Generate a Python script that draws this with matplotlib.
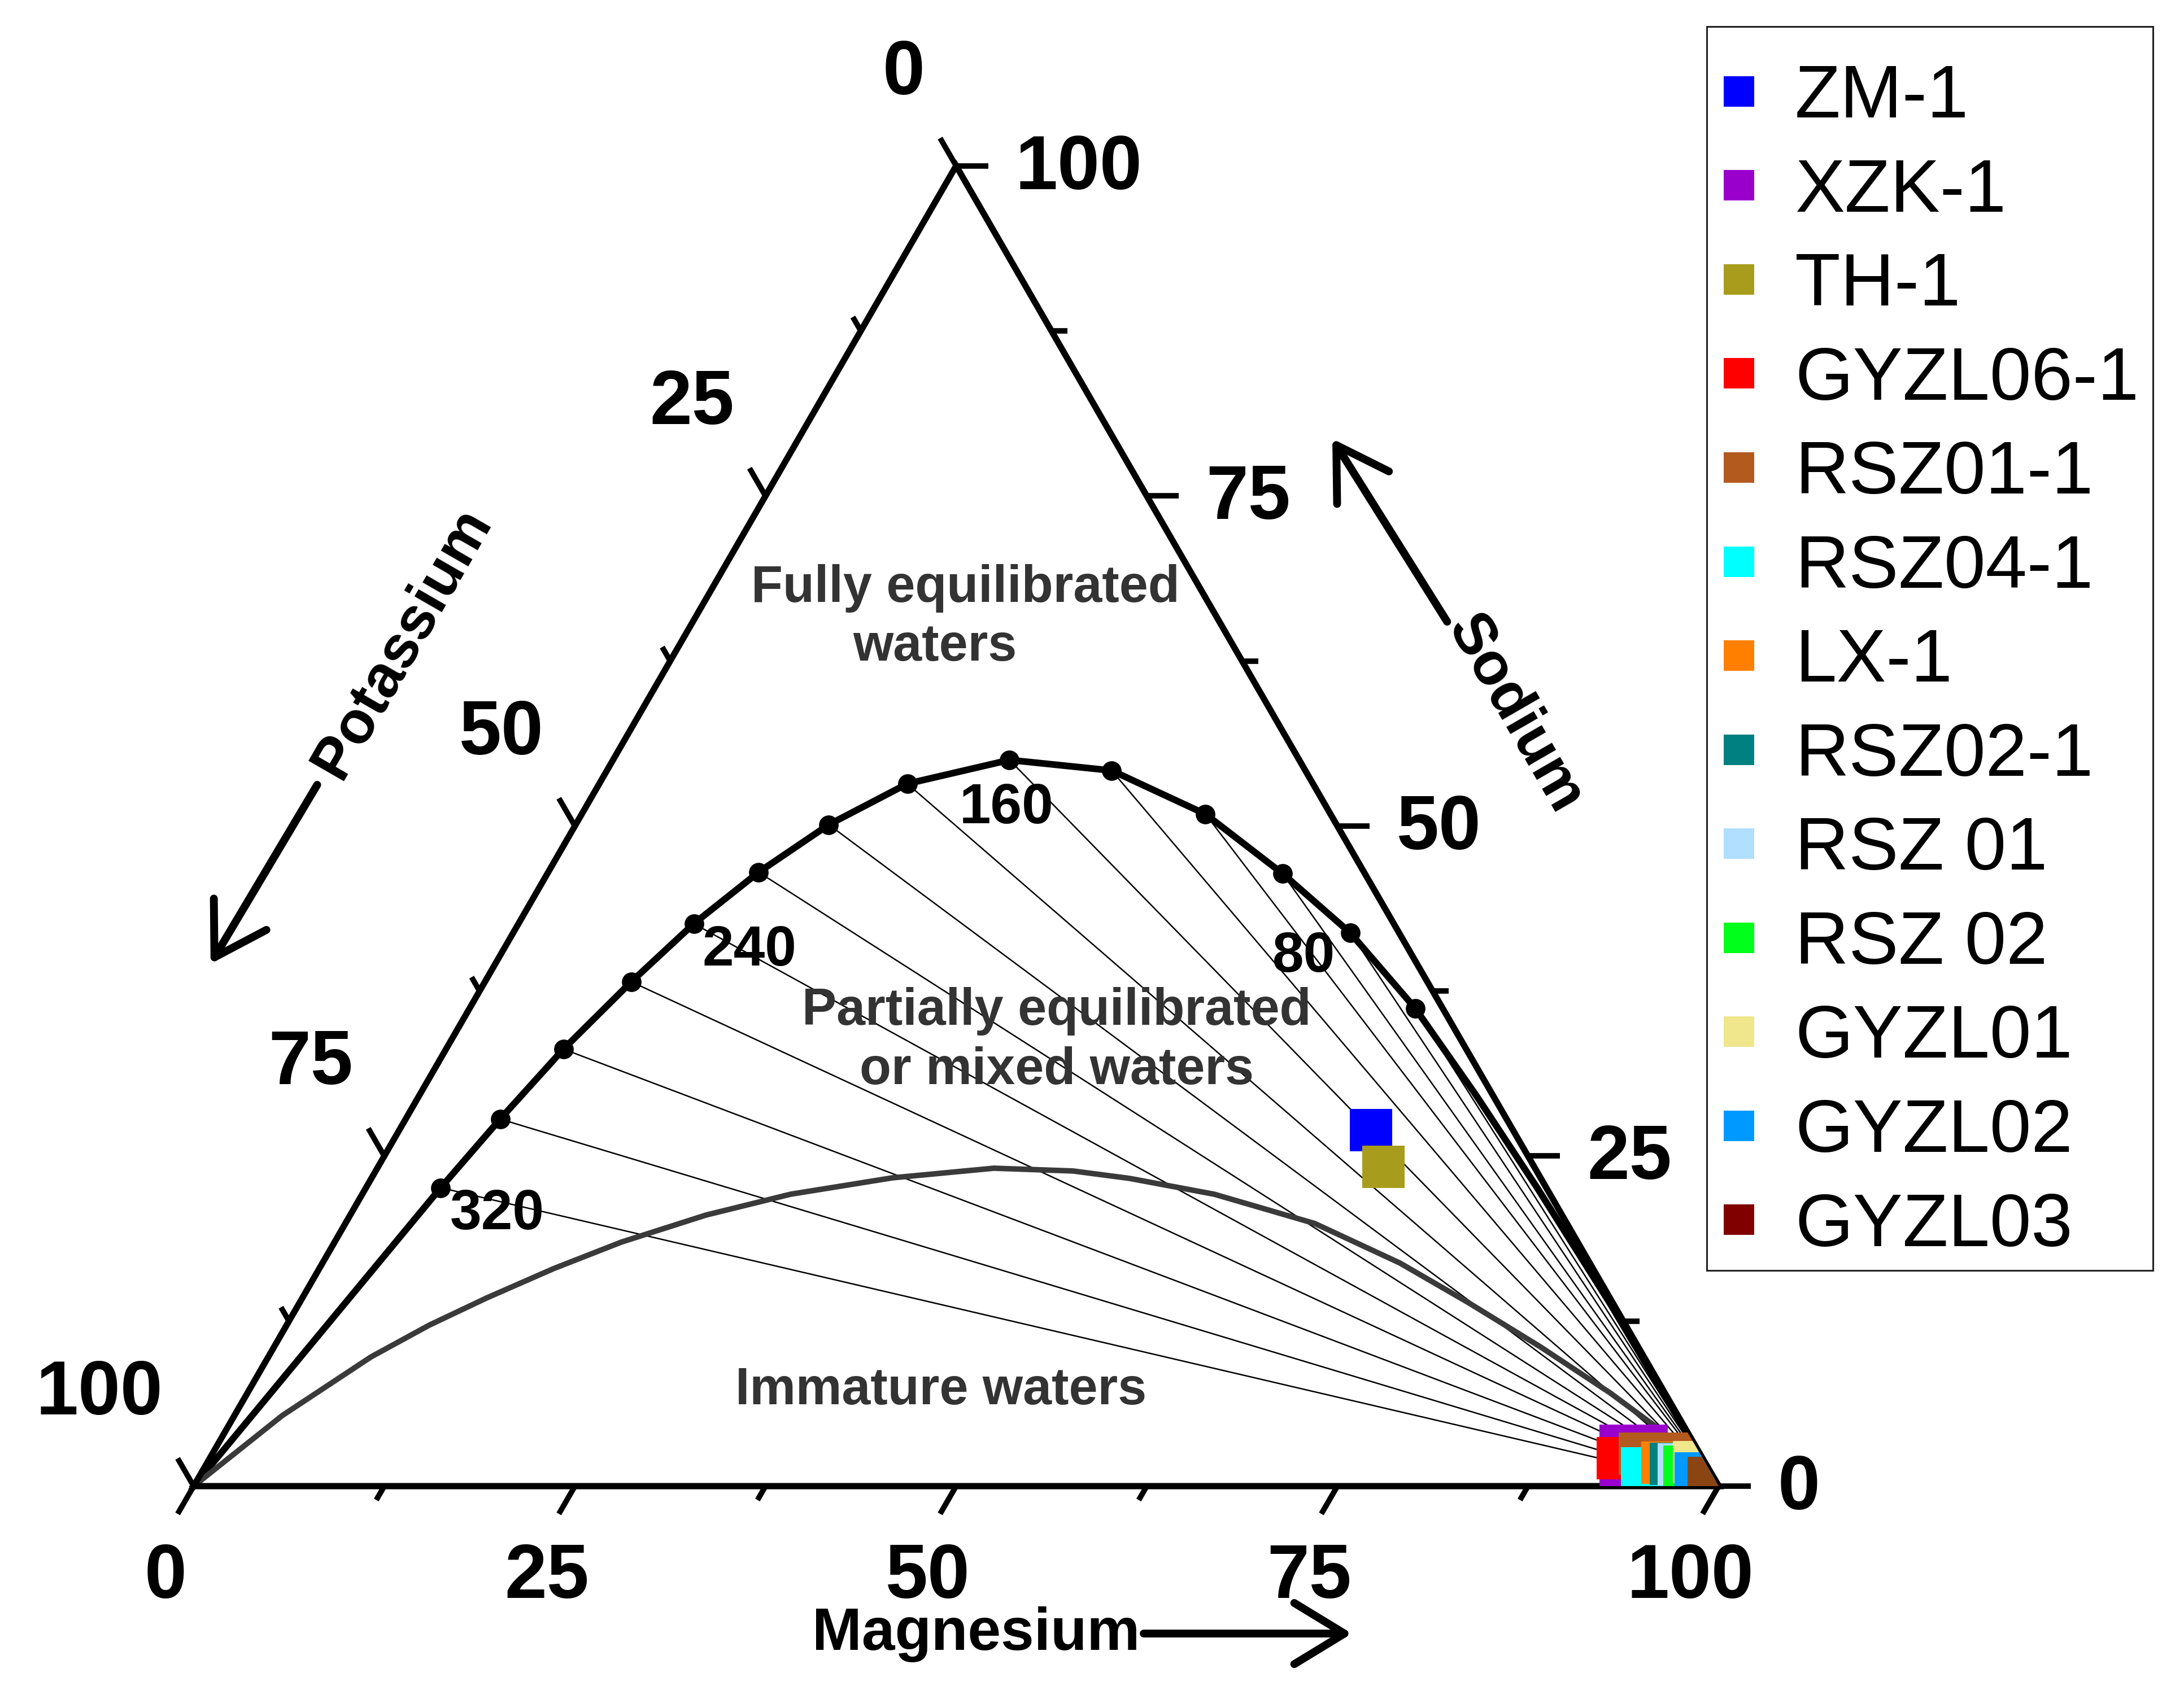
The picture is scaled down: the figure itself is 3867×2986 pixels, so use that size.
import numpy as np
import matplotlib.pyplot as plt
from matplotlib.patches import Polygon, Rectangle
from matplotlib.lines import Line2D

plt.rcParams['font.family'] = ['Liberation Sans', 'DejaVu Sans']

# full equilibrium line (dots every 20 degC), ternary % of Mg and Na
temps = [320, 300, 280, 260, 240, 220, 200, 180, 160, 140, 120, 100, 80, 60]
feq_mg = [4.9, 6.2, 7.7, 9.6, 11.5, 13.8, 16.6, 20.2, 26.0, 33.1, 40.9, 48.2, 54.9, 62.0]
feq_na = [22.6, 27.8, 33.1, 38.2, 42.6, 46.5, 50.1, 53.2, 55.0, 54.2, 50.9, 46.4, 41.9, 36.2]
# parts of the line beyond the dotted range
head_mg, head_na = [0.0], [0.0]
tail_mg = [69.3, 76.8, 86.0, 100.0]
tail_na = [29.6, 22.6, 13.8, 0.0]
temp_labels = {320: (100, -73), 240: (98, -74), 160: (-5, -112), 80: (-82, -69)}

# immature waters boundary
imm_mg = [0, 3.14, 6.74, 9.35, 12.07, 15.36, 18.8, 23.33, 28.09, 34.14, 40.44, 45.73,
          49.71, 55.87, 63.58, 70.67, 76.64, 83.02, 89.36, 94.59, 100]
imm_na = [0, 5.35, 9.79, 12.19, 14.24, 16.47, 18.48, 20.53, 22.11, 23.35, 24.08, 23.87,
          23.31, 22.11, 19.89, 16.89, 13.9, 10.56, 7.06, 3.93, 0]

# samples
names = ['ZM-1', 'XZK-1', 'TH-1', 'GYZL06-1', 'RSZ01-1', 'RSZ04-1', 'LX-1',
         'RSZ02-1', 'RSZ 01', 'RSZ 02', 'GYZL01', 'GYZL02', 'GYZL03']
colors = ['#0000FF', '#9900CC', '#A89C1C', '#FF0000', '#B35A1F', '#00FFFF', '#FF8000',
          '#008080', '#B0DFFF', '#00FF1A', '#F0E68C', '#0099FF', '#8B4513']
legend_colors = colors[:-1] + ['#800000']
samp_mg = [[63.7], [92.0, 93.7, 92.8], [65.9], [92.3], [93.55, 95.7], [94.3], [95.4],
           [96.0], [96.55], [97.0], [97.45], [98.0], [99.0]]
samp_na = [[27.0], [3.1, 3.1, 1.5], [24.2], [2.15], [2.5, 2.5], [1.35], [1.8],
           [1.7], [1.65], [1.5], [1.85], [1.0], [0.65]]

ticks = np.arange(0, 100.1, 12.5)

S3 = np.sqrt(3) / 2
W, H = 3867, 2986


def tern(mg, na):
    mg = np.asarray(mg, float)
    na = np.asarray(na, float)
    return mg + na / 2, na * S3


fig = plt.figure(figsize=(W / 100, H / 100), dpi=100)
ax = fig.add_axes([0, 0, 1, 1])
ax.set_xlim(-12.70, 130.52)
ax.set_ylim(-13.11, 97.48)
ax.axis('off')

tri = Polygon([[0, 0], [100, 0], [50, 100 * S3]], closed=True, fill=False,
              edgecolor='k', lw=8, joinstyle='miter', zorder=4)
ax.add_patch(tri)

tick_kw = dict(color='k', lw=7, solid_capstyle='butt', zorder=4)
lab_kw = dict(fontsize=97, fontweight='bold', textcoords='offset pixels', va='baseline')
for v in ticks:
    L = 2.1 if v % 25 == 0 else 1.05
    x0, y0 = tern(v, 0)
    ax.plot([x0, x0 - 0.5 * L], [y0, y0 - S3 * L], **tick_kw)
    x1, y1 = tern(100 - v, v)
    ax.plot([x1, x1 + L], [y1, y1], **tick_kw)
    x2, y2 = tern(0, 100 - v)
    ax.plot([x2, x2 - 0.5 * L], [y2, y2 + S3 * L], **tick_kw)
    if v % 25 == 0:
        t = '%d' % v
        ax.annotate(t, (x0, y0), xytext=(-50, -198), ha='center', **lab_kw)
        ax.annotate(t, (x1, y1), xytext=(105, -41), ha='left', **lab_kw)
        ax.annotate(t, (x2, y2), xytext=(-55, 127), ha='right', **lab_kw)

# full equilibrium line with tie lines to the Mg corner
fx, fy = tern(feq_mg, feq_na)
for xi, yi in zip(fx, fy):
    ax.plot([xi, 100], [yi, 0], color='k', lw=1.8, zorder=2)
lx, ly = tern(head_mg + feq_mg + tail_mg, head_na + feq_na + tail_na)
ax.plot(lx, ly, color='k', lw=8.5, zorder=3, solid_joinstyle='round')
ax.plot(fx, fy, 'o', color='k', ms=24, zorder=3)
for t, xi, yi in zip(temps, fx, fy):
    if t in temp_labels:
        ax.annotate(str(t), (xi, yi), xytext=temp_labels[t], textcoords='offset pixels',
                    ha='center', va='baseline', fontsize=72, fontweight='bold', zorder=5)

ix, iy = tern(imm_mg, imm_na)
ax.plot(ix, iy, color='#3a3a3a', lw=7, zorder=3, solid_joinstyle='round')

# samples
for nm, c, m, n in zip(names, colors, samp_mg, samp_na):
    sx, sy = tern(m, n)
    ln, = ax.plot(sx, sy, 's', ms=54, color=c, mew=0, zorder=6)
    ln.set_clip_path(tri)

# region labels
reg_kw = dict(fontsize=66, fontweight='bold', color='#333333', ha='center', va='baseline')
ax.text(50.6, 58.0, 'Fully equilibrated', **reg_kw)
ax.text(48.6, 54.15, 'waters', **reg_kw)
ax.text(56.6, 30.26, 'Partially equilibrated', **reg_kw)
ax.text(56.6, 26.37, 'or mixed waters', **reg_kw)
ax.text(49.0, 5.37, 'Immature waters', **reg_kw)

# axis titles and arrows
ttl_kw = dict(fontsize=76, fontweight='bold', ha='center')
arr = dict(arrowstyle='->,head_length=0.64,head_width=0.39', lw=10, color='k',
           mutation_scale=100, shrinkA=0, shrinkB=0)
ax.text(51.3, -10.74, 'Magnesium', va='baseline', **ttl_kw)
ax.annotate('', xy=(75.96, -9.67), xytext=(62.3, -9.67), arrowprops=arr)
ax.text(86.63, 50.63, 'Sodium', rotation=-60, va='center', rotation_mode='anchor', **ttl_kw)
ax.annotate('', xy=(74.67, 68.70), xytext=(82.2, 56.7), arrowprops=arr)
ax.text(13.70, 55.30, 'Potassium', rotation=60, va='center', rotation_mode='anchor', **ttl_kw)
ax.annotate('', xy=(1.11, 34.26), xytext=(8.1, 46.0), arrowprops=arr)

# legend, with its frame drawn separately
handles = [Line2D([], [], marker='s', ls='none', color=c, ms=39, mew=0) for c in legend_colors]
leg = ax.legend(handles, names, loc='upper left', bbox_to_anchor=(3046 / W, 1 - 112 / H),
                bbox_transform=fig.transFigure, fontsize=95, frameon=False,
                borderpad=0, labelspacing=0.33, handlelength=0.5, handletextpad=0.5,
                borderaxespad=0)
fig.patches.append(Rectangle((3022 / W, 1 - 2250 / H), (3812 - 3022) / W, (2250 - 47) / H,
                             transform=fig.transFigure, fill=False, edgecolor='#222222',
                             lw=2.2))

fig.savefig('out.png', dpi=100, facecolor='white')
